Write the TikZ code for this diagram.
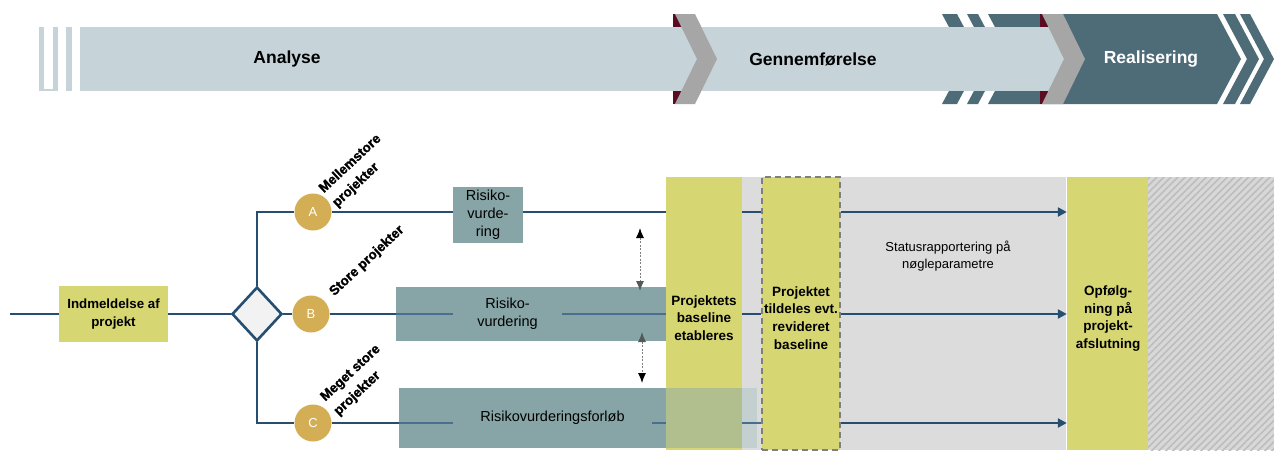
\documentclass[tikz,border=0pt]{standalone}
\usepackage{fontspec}
\setmainfont{Liberation Sans}
\newfontfamily\heavyfont{Liberation Sans}[BoldFeatures={FakeBold=1.3}]
\usetikzlibrary{shapes.geometric,arrows.meta,patterns.meta}
\definecolor{lbar}{HTML}{C6D4DA}
\definecolor{dteal}{HTML}{4E6B78}
\definecolor{dred}{HTML}{5B0C22}
\definecolor{chgray}{HTML}{A6A6A6}
\definecolor{ylw}{HTML}{D6D673}
\definecolor{boxc}{HTML}{87A5A6}
\definecolor{lnblue}{HTML}{264E70}
\definecolor{thinblue}{HTML}{4A6F8E}
\definecolor{gold}{HTML}{D4AE55}
\definecolor{bggray}{HTML}{DCDCDC}
\definecolor{diafill}{HTML}{F2F2F2}
\definecolor{mixc}{HTML}{B1BF8E}
\definecolor{lightc}{HTML}{C4CFD0}
\definecolor{hatchbg}{HTML}{D8D8D8}
\definecolor{hatchln}{HTML}{BDBDBD}
\definecolor{dashgray}{HTML}{7F7F7F}
\definecolor{tipgray}{HTML}{505A5C}
\newcommand\mychev[4]{\fill[#4] (#1,14) -- ++(#2,0) -- ++(#3,45) -- ++(-#3,45) -- ++(-#2,0) -- ++(#3,-45) -- cycle;}
\begin{document}
\begin{tikzpicture}[x=1pt,y=-1pt,
  phase/.style={font=\fontsize{17.5}{20}\selectfont\bfseries, inner sep=0},
  box/.style={rectangle, fill=boxc, inner sep=0, align=center, font=\fontsize{14.5}{18}\selectfont},
  colbox/.style={rectangle, fill=ylw, inner sep=0, minimum height=273pt},
  coltext/.style={align=center, font=\fontsize{13.5}{17.8}\selectfont\bfseries, inner sep=0},
  conn/.style={draw=lnblue, line width=2.6pt},
  thinconn/.style={draw=thinblue, line width=1.8pt},
  arr/.style={conn, -{Triangle[length=9pt,width=9pt]}},
  circ/.style={circle, fill=gold, minimum size=37pt, inner sep=0, text=white, font=\fontsize{13}{15}\selectfont},
  rlabel/.style={rotate=43, align=left, font=\heavyfont\fontsize{13.5}{19.5}\selectfont\bfseries, inner sep=0},
  dotarrow/.style={draw=dashgray, line width=1pt, dash pattern=on 2pt off 1.5pt}
]
\useasboundingbox (0,0) rectangle (1274,450);
\fill[white] (0,0) rectangle (1274,450);

% ---------- top banner ----------
\fill[lbar] (39,27) rectangle (43.5,91);
\fill[lbar] (52.5,27) rectangle (58,91);
\fill[lbar] (39,88.5) rectangle (58,91);
\fill[lbar] (66,27) rectangle (72,91);
\mychev{942}{15}{24}{dteal}
\mychev{967}{11}{24}{dteal}
\mychev{988}{229}{24}{dteal}
\mychev{1223}{12}{24}{dteal}
\mychev{1240}{10}{24}{dteal}
\fill[dred] (673,14) rectangle (686,104);
\fill[dred] (1040,14) rectangle (1053,104);
\fill[lbar] (80,27) rectangle (1064,91);
\mychev{675}{20}{22}{chgray}
\mychev{1042}{21}{22}{chgray}
\node[phase] (an) at (287,59) {Analyse};
\node[phase] (ge) at (813,59) {Gennemførelse};
\node[phase, text=white] (re) at (1151,59) {Realisering};

% ---------- backgrounds ----------
\fill[bggray] (742,177) rectangle (1067,450);
\fill[hatchbg] (1148,177) rectangle (1274,450);
\fill[pattern={Lines[angle=45,distance=5pt,line width=1.6pt]}, pattern color=hatchln] (1148,177) rectangle (1274,450);

% ---------- nodes ----------
\coordinate (start) at (10,314);
\node[rectangle, fill=ylw, inner sep=0, minimum width=109pt, minimum height=56pt, align=center,
      font=\fontsize{13.3}{18}\selectfont\bfseries] (indm) at (113.5,314) {Indmeldelse af\\projekt};
\node[diamond, draw=lnblue, fill=diafill, line width=2.6pt, minimum width=50pt, minimum height=54pt, inner sep=0] (dia) at (257,314) {};
\node[circ] (A) at (313,212) {A};
\node[circ] (B) at (311,314) {B};
\node[circ] (C) at (313,423) {C};
\node[rlabel] (lA) at (357,171) {Mellemstore\\projekter};
\node[rlabel] (lB) at (367,261) {Store projekter};
\node[rlabel] (lC) at (357.5,380.5) {Meget store\\projekter};

\node[box, minimum width=70pt, minimum height=56pt] (Abox) at (488,215) {Risiko-\\vurde-\\ring};
\node[box, minimum width=270pt, minimum height=54pt] (Bbox) at (531,314) {};
\node[box, minimum width=267pt, minimum height=60pt] (Cbox) at (532.5,418) {};
\fill[lightc] (742,388) rectangle (757,448);
\node[box, minimum width=109pt, minimum height=54pt] (Btext) at (507.5,314) {Risiko-\\vurdering};
\node[box, minimum width=199pt, minimum height=60pt] (Ctext) at (552.5,418) {Risikovurderingsforløb};

\node[colbox, minimum width=76pt] (col1) at (704,313.5) {};
\node[colbox, minimum width=78pt, draw=dashgray, line width=2pt, dash pattern=on 6pt off 4pt] (col2) at (801,313.5) {};
\node[colbox, minimum width=81pt] (col3) at (1107.5,313.5) {};
\draw[white, line width=1pt] (col3.north west) -- (col3.south west);
\fill[mixc] (666,388) rectangle (742,448);
\node[coltext] (col1t) at (704,318) {Projektets\\baseline\\etableres};
\node[coltext] (col2t) at (801,318) {Projektet\\tildeles evt.\\revideret\\baseline};
\node[coltext] (col3t) at (1108,318.5) {Opfølg-\\ning på\\projekt-\\afslutning};
\node[align=center, inner sep=0, font=\fontsize{13}{17.7}\selectfont] (status) at (948,256) {Statusrapportering på\\nøgleparametre};

% ---------- connectors ----------
\draw[conn] (start) -- (indm.west);
\draw[conn] (indm.east) -- (dia.west);
\draw[conn] (dia.north) -- (dia.north |- A.center) -- (A.west);
\draw[conn] (dia.east) -- (B.west);
\draw[conn] (dia.south) -- (dia.south |- C.center) -- (C.west);

% row A
\draw[conn] (A.east) -- (A.east -| Abox.west);
\draw[conn] (A.center -| Abox.east) -- (A.center -| col1.west);
\draw[conn] (A.center -| col1.east) -- (A.center -| col2.west);
\draw[arr] (A.center -| col2.east) -- (A.center -| col3.west);
% row B
\draw[conn] (B.east) -- (Bbox.west);
\draw[thinconn] (Bbox.west) -- (Btext.west);
\draw[thinconn] (Btext.east) -- (Bbox.east);
\draw[conn] (B.center -| col1.east) -- (B.center -| col2.west);
\draw[arr] (B.center -| col2.east) -- (B.center -| col3.west);
% row C
\draw[conn] (C.east) -- (C.center -| Cbox.west);
\draw[thinconn] (C.center -| Cbox.west) -- (C.center -| Ctext.west);
\draw[thinconn] (C.center -| Ctext.east) -- (C.center -| Cbox.east);
\draw[thinconn] (C.center -| col1.east) -- (C.center -| col2.west);
\draw[arr] (C.center -| col2.east) -- (C.center -| col3.west);

% dotted double arrows
\coordinate (d1t) at (640,228);
\coordinate (d1b) at (640,291);
\coordinate (d2t) at (642,332);
\coordinate (d2b) at (642,383);
\draw[dotarrow, {Latex[length=10pt,width=8pt,color=black]}-{Latex[length=10pt,width=8pt,color=tipgray]}] (d1t) -- (d1b);
\draw[dotarrow, {Latex[length=10pt,width=8pt,color=tipgray]}-{Latex[length=10pt,width=8pt,color=black]}] (d2t) -- (d2b);
\end{tikzpicture}
\end{document}
